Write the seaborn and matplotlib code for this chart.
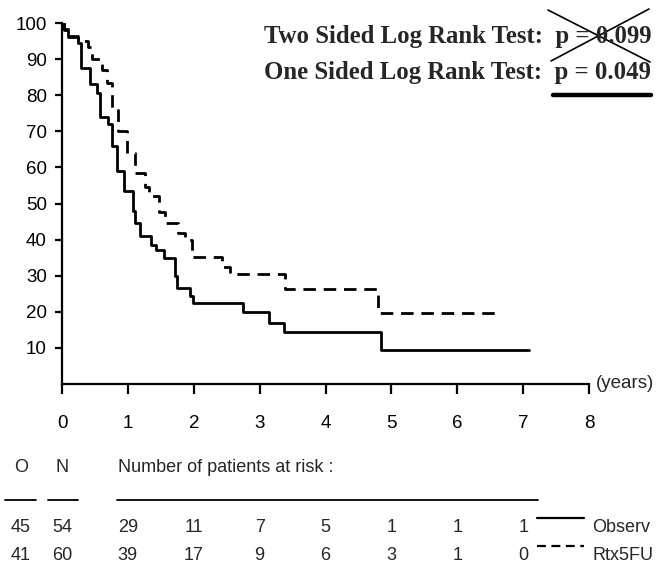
import seaborn as sns
import pandas as pd
import matplotlib.pyplot as plt
from matplotlib.lines import Line2D

# Kaplan-Meier steps (years, % surviving)
observ_t = [0, 0.03, 0.09, 0.24, 0.29, 0.42, 0.53, 0.58, 0.70, 0.76, 0.83, 0.94,
            1.08, 1.11, 1.18, 1.35, 1.43, 1.55, 1.72, 1.74, 1.94, 1.99, 2.75,
            3.14, 3.37, 4.84, 7.09]
observ_s = [100, 98, 96, 94.5, 87.5, 83, 80.5, 74, 72, 66, 59, 53.5,
            48, 44.5, 41, 38.5, 37, 35, 30, 26.5, 24.5, 22.5, 20,
            17, 14.4, 9.4, 9.4]

rtx_t = [0, 0.03, 0.09, 0.24, 0.39, 0.45, 0.61, 0.68, 0.76, 0.85, 0.99, 1.11,
         1.26, 1.32, 1.48, 1.56, 1.76, 1.87, 1.97, 2.43, 2.55, 3.38, 4.80, 6.62]
rtx_s = [100, 98.3, 96.5, 95, 93.4, 90, 87, 83.4, 76, 70, 64, 58.4,
         54.6, 52, 47.6, 44.6, 41.8, 40, 35.2, 32.4, 30.5, 26.3, 19.6, 19.6]

# number at risk table
risk_years = [1, 2, 3, 4, 5, 6, 7]
risk_observ = [29, 11, 7, 5, 1, 1, 1]
risk_rtx = [39, 17, 9, 6, 3, 1, 0]
group_names = ['Observ', 'Rtx5FU']
events_o = [45, 41]
patients_n = [54, 60]

W, H = 661, 572
AX_BOTTOM, AX_TOP = 188, 549   # axes edges in pixels from the bottom


def px(x, y):
    # picture pixels (from top-left) -> figure fraction
    return x / W, 1 - y / H


sns.set_style('ticks')
plt.rcParams['font.family'] = ['Liberation Sans', 'DejaVu Sans']

fig = plt.figure(figsize=(W / 100, H / 100), dpi=100)
ax = fig.add_axes([62 / W, AX_BOTTOM / H, (589 - 62) / W, (AX_TOP - AX_BOTTOM) / H])

df_o = pd.DataFrame({'t': observ_t, 's': observ_s})
df_r = pd.DataFrame({'t': rtx_t, 's': rtx_s})
sns.lineplot(data=df_o, x='t', y='s', ax=ax, color='black', lw=2,
             drawstyle='steps-post', estimator=None)
sns.lineplot(data=df_r, x='t', y='s', ax=ax, color='black', lw=2,
             drawstyle='steps-post', estimator=None, linestyle=(0, (4.5, 2.8)))

ax.set_xlim(0, 8)
ax.set_ylim(0, 100)
ax.set_xticks(range(0, 9))
ax.set_yticks(range(10, 101, 10))
ax.set_xlabel('')
ax.set_ylabel('')
ax.spines['top'].set_visible(False)
ax.spines['right'].set_visible(False)
for sp in ['left', 'bottom']:
    ax.spines[sp].set_linewidth(1.6)
    ax.spines[sp].set_color('black')
ax.tick_params(axis='y', length=5, width=1.6, pad=6, labelsize=13.5, colors='black')
ax.tick_params(axis='x', length=7, width=1.6, pad=15, labelsize=13.5, colors='black')
ax.set_facecolor('white')

ax.text(8.1, 0, '(years)', fontsize=13.5, ha='left', va='center')

# log rank text
serif = dict(family='Liberation Serif', weight='bold', fontsize=17.8)
fig.text(*px(651, 36), 'Two Sided Log Rank Test:  p = 0.099', ha='right', va='center', **serif)
fig.text(*px(651, 72), 'One Sided Log Rank Test:  p = 0.049', ha='right', va='center', **serif)
for (x0, y0), (x1, y1) in [((548, 10), (650, 62)), ((649, 9), (551, 61))]:
    fig.add_artist(Line2D([x0 / W, x1 / W], [1 - y0 / H, 1 - y1 / H], color='black', lw=1.2))
fig.add_artist(Line2D([553 / W, 651 / W], [1 - 95 / H, 1 - 95 / H], color='black', lw=3.2))

# risk table
fs = 13
fig.text(*px(21, 468), 'O', ha='center', va='center', fontsize=fs)
fig.text(*px(62, 468), 'N', ha='center', va='center', fontsize=fs)
fig.text(*px(118, 468), 'Number of patients at risk :', ha='left', va='center', fontsize=fs)
for x0, x1 in [(5, 36), (48, 78), (117, 538)]:
    fig.add_artist(Line2D([x0 / W, x1 / W], [1 - 500 / H] * 2, color='black', lw=1.3))

trans = ax.get_xaxis_transform()
rows_y = [527, 555]
for row, vals, name, o, n, ls in zip(range(2), [risk_observ, risk_rtx], group_names,
                                      events_o, patients_n, ['-', (0, (4, 2.5))]):
    yy = 1 - rows_y[row] / H
    fig.text(21 / W, yy, str(o), ha='center', va='center', fontsize=fs)
    fig.text(62 / W, yy, str(n), ha='center', va='center', fontsize=fs)
    ay = (H - rows_y[row] - AX_BOTTOM) / (AX_TOP - AX_BOTTOM)
    for t, v in zip(risk_years, vals):
        ax.text(t, ay, str(v), transform=trans, ha='center', va='center', fontsize=fs)
    ly = 1 - (rows_y[row] - 9) / H
    fig.add_artist(Line2D([537 / W, 584 / W], [ly, ly], color='black', lw=1.6, linestyle=ls))
    fig.text(592 / W, yy, name, ha='left', va='center', fontsize=fs)

fig.savefig('out.png', dpi=100, facecolor='white')
